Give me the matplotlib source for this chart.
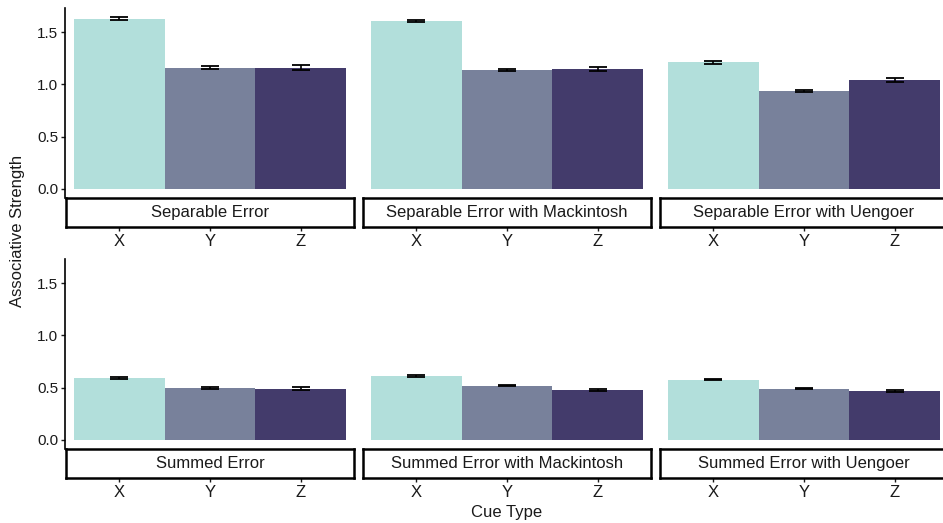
import matplotlib
matplotlib.use('Agg')
import matplotlib.pyplot as plt

# --- Data ---
cues = ['X', 'Y', 'Z']
panel_titles = [
    'Separable Error', 'Separable Error with Mackintosh', 'Separable Error with Uengoer',
    'Summed Error', 'Summed Error with Mackintosh', 'Summed Error with Uengoer',
]
strength = [
    [1.63, 1.16, 1.16],
    [1.61, 1.14, 1.15],
    [1.21, 0.935, 1.04],
    [0.595, 0.50, 0.49],
    [0.61, 0.52, 0.48],
    [0.575, 0.49, 0.47],
]
strength_se = [
    [0.015, 0.015, 0.025],
    [0.010, 0.010, 0.020],
    [0.012, 0.010, 0.018],
    [0.008, 0.008, 0.012],
    [0.007, 0.007, 0.010],
    [0.005, 0.005, 0.007],
]
cue_colors = ['#b2dfdb', '#78819b', '#433b6b']

plt.rcParams['font.family'] = ['Liberation Sans', 'DejaVu Sans']
W, H = 943, 523
fig = plt.figure(figsize=(W / 100, H / 100), dpi=100)


def box(x0, y0, x1, y1):
    # pixel box (top-left origin) -> figure fraction rect
    return [x0 / W, 1 - y1 / H, (x1 - x0) / W, (y1 - y0) / H]


col_x = [65, 362, 659]
panel_w = 290
row_top = [8, 259]
panel_h = 190
strip_h = 29
ylim = (-0.0865, 1.731)
xlim = (-0.6, 2.6)
text_col = '#1a1a1a'

for i, title in enumerate(panel_titles):
    r, c = divmod(i, 3)
    x0 = col_x[c]
    y0 = row_top[r]
    ax = fig.add_axes(box(x0, y0, x0 + panel_w, y0 + panel_h))
    ax.bar(range(3), strength[i], width=1.0, color=cue_colors, zorder=1)
    ax.errorbar(range(3), strength[i], yerr=strength_se[i], fmt='none',
                ecolor='black', elinewidth=1.2, capsize=6.5, capthick=1.3, zorder=2)
    ax.set_xlim(*xlim)
    ax.set_ylim(*ylim)
    ax.set_xticks([])
    for s in ['top', 'right', 'bottom']:
        ax.spines[s].set_visible(False)
    if c == 0:
        ax.spines['left'].set_linewidth(1.2)
        ax.set_yticks([0.0, 0.5, 1.0, 1.5])
        ax.set_yticklabels(['0.0', '0.5', '1.0', '1.5'])
        ax.tick_params(axis='y', labelsize=11, length=3, width=1, pad=2,
                       colors=text_col)
    else:
        ax.spines['left'].set_visible(False)
        ax.set_yticks([])
    ax.patch.set_alpha(0)

    # strip below the panel, with the x axis on its lower edge
    sy = y0 + panel_h
    sax = fig.add_axes(box(x0 + 1, sy, x0 + panel_w - 1, sy + strip_h))
    sax.set_xlim(xlim[0] + 1 / 90.5, xlim[1] - 1 / 90.5)
    sax.set_ylim(0, 1)
    sax.set_yticks([])
    sax.set_xticks(range(3))
    sax.set_xticklabels(cues)
    sax.tick_params(axis='x', labelsize=12, length=3, width=1, pad=2,
                    colors=text_col)
    for s in sax.spines.values():
        s.set_linewidth(1.8)
    sax.text(0.5, 0.5, title, transform=sax.transAxes, ha='center',
             va='center', fontsize=12, color=text_col)

fig.text(507 / W, 1 - 512 / H, 'Cue Type', ha='center', va='center',
         fontsize=12, color=text_col)
fig.text(18 / W, 1 - 231 / H, 'Associative Strength', ha='center',
         va='center', rotation=90, fontsize=12, color=text_col)

fig.savefig('out.png', dpi=100)
